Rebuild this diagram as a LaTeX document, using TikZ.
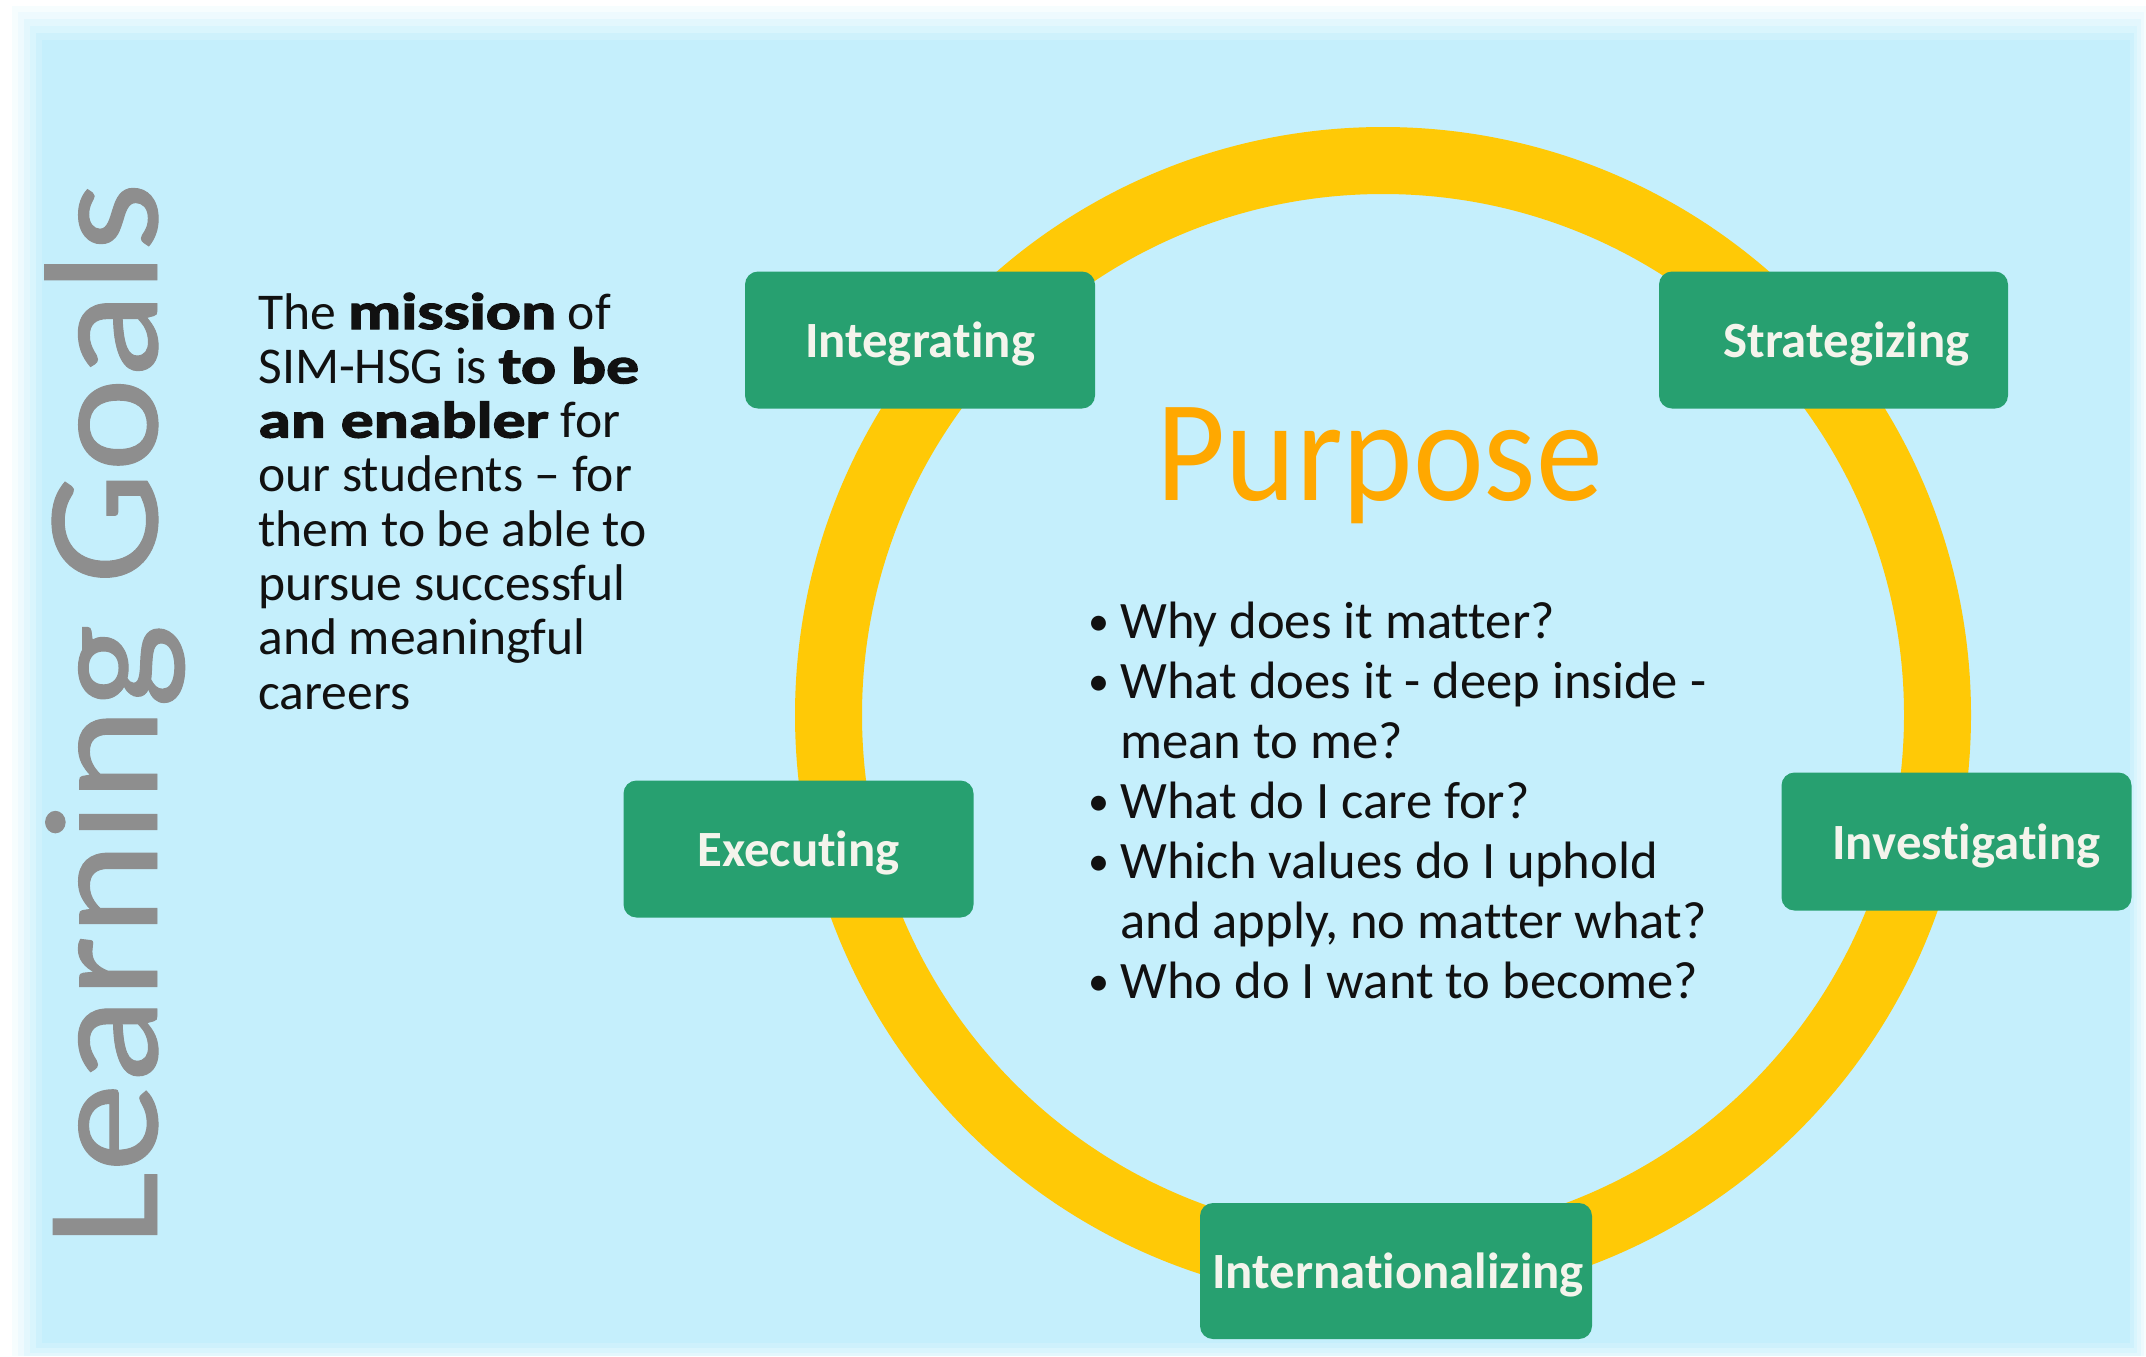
\documentclass[tikz,border=0pt]{standalone}
\usepackage{fontspec}
\setmainfont{Carlito}[Ligatures=NoCommon]
\newfontfamily\heavyfont{Carlito}[Ligatures=NoCommon, BoldFeatures={FakeBold=2.2}]
\newfontfamily\goalfont{Carlito}[Ligatures=NoCommon, FakeBold=0.6]
\newcommand{\heavytext}[1]{\scalebox{1.27}[1]{\heavyfont\bfseries #1}}
\newcommand{\qbullet}{\makebox[16pt][l]{\raisebox{0.05em}{\scalebox{0.8}{•}}}}
\definecolor{bgblue}{HTML}{C5EFFC}
\definecolor{ringyellow}{HTML}{FFC906}
\definecolor{boxgreen}{HTML}{27A070}
\definecolor{labelwhite}{HTML}{F4F4EC}
\definecolor{purposeorange}{HTML}{FFA800}
\definecolor{goalgray}{HTML}{8E8E8E}
\definecolor{textblack}{HTML}{111111}
\tikzset{
  ring/.style={draw=ringyellow, line width=33.5pt},
  stagebox/.style={rectangle, rounded corners=6.5pt, fill=boxgreen, text=labelwhite,
    font=\fontsize{25.4}{29}\selectfont\bfseries, inner sep=0pt, text depth=0pt},
  goaltext/.style={text=goalgray, font=\goalfont\fontsize{89}{100}\selectfont, inner sep=0pt},
  missiontext/.style={text=textblack, font=\fontsize{25.8}{27.15}\selectfont, inner sep=0pt},
  questiontext/.style={text=textblack, font=\fontsize{26.3}{30}\selectfont, inner sep=0pt},
  purposetext/.style={text=purposeorange, font=\fontsize{67}{75}\selectfont, inner sep=0pt}
}
\begin{document}
\begin{tikzpicture}[x=0.5pt,y=-0.5pt]
\useasboundingbox (0,0) rectangle (2146,1356);
% background with soft edge
\fill[white] (0,0) rectangle (2146,1356);
\fill[bgblue!15!white] (12,6) rectangle (2146,1356);
\fill[bgblue!30!white] (18,12) rectangle (2144,1356);
\fill[bgblue!48!white] (24,19) rectangle (2141,1356);
\fill[bgblue!66!white] (30,26) rectangle (2137,1353);
\fill[bgblue!84!white] (36,33) rectangle (2134,1348);
\fill[bgblue] (42,40) rectangle (2130,1343);

% ring
\coordinate (c) at (1383,715);
\draw[ring] (c) circle[radius=554.5];

% stage boxes
\node[stagebox, minimum width=175pt, minimum height=68.5pt] (integrating) at (920,340) {Integrating};
\node[stagebox, minimum width=174.5pt, minimum height=68.5pt] (strategizing) at (1833.5,340) {\hspace*{13pt}Strategizing};
\node[stagebox, minimum width=175pt, minimum height=68.5pt] (executing) at (798.5,849) {Executing};
\node[stagebox, minimum width=175pt, minimum height=69pt] (investigating) at (1956.5,841.5) {\hspace*{10pt}Investigating};
\node[stagebox, minimum width=196pt, minimum height=68pt] (internationalizing) at (1396,1271) {\hspace*{2pt}Internationalizing};

% title
\node[goaltext, rotate=90, anchor=base west] (goals) at (157,1247) {\scalebox{1}[0.91]{Learning Goals}};

% mission text
\node[missiontext, anchor=base west] (mission) at (258,329) {\begin{tabular}[t]{@{}l@{}}
The \heavytext{mission} of\\
SIM-HSG is \heavytext{to be}\\
\heavytext{an enabler} for\\
our students – for\\
them to be able to\\
pursue successful\\
and meaningful\\
careers
\end{tabular}};

% purpose
\node[purposetext, anchor=base west] (purpose) at (1156,500) {\scalebox{1}[1.08]{Purpose}};

% questions
\node[questiontext, anchor=base west] (questions) at (1088,638) {\begin{tabular}[t]{@{}l@{}l@{}}
\qbullet & Why does it matter?\\
\qbullet & What does it - deep inside -\\
 & mean to me?\\
\qbullet & What do I care for?\\
\qbullet & Which values do I uphold\\
 & and apply, no matter what?\\
\qbullet & Who do I want to become?
\end{tabular}};
\end{tikzpicture}
\end{document}
